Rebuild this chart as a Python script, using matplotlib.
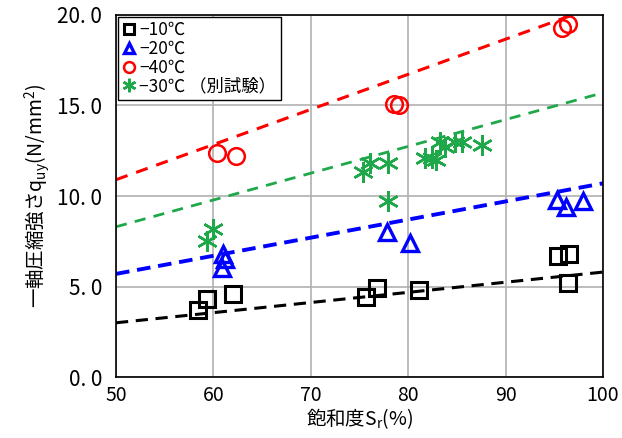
import matplotlib.pyplot as plt
from matplotlib.ticker import FuncFormatter

plt.rcParams['font.family'] = ['Noto Sans CJK JP', 'DejaVu Sans']

# -10°C
sr_10 = [58.4, 59.3, 62.0, 75.7, 76.8, 81.1, 95.4, 96.5, 96.4]
q_10 = [3.7, 4.3, 4.6, 4.4, 4.9, 4.8, 6.7, 6.8, 5.2]
# -20°C
sr_20 = [61.0, 61.2, 60.9, 77.8, 80.2, 95.3, 96.2, 97.9]
q_20 = [6.8, 6.5, 6.0, 8.0, 7.4, 9.8, 9.4, 9.7]
# -40°C
sr_40 = [60.4, 62.3, 78.5, 79.1, 95.8, 96.4]
q_40 = [12.4, 12.2, 15.1, 15.0, 19.3, 19.5]
# -30°C (separate test)
sr_30 = [59.3, 60.0, 75.4, 76.1, 77.9, 77.9, 81.7, 82.4, 82.9, 83.3, 83.8, 84.8, 85.5, 87.6]
q_30 = [7.5, 8.2, 11.3, 11.8, 11.8, 9.7, 12.1, 12.1, 12.0, 13.0, 12.7, 13.0, 13.0, 12.8]

# trend lines (value at Sr=50 and Sr=100)
trend_x = [50, 100]
trend_10 = [3.0, 5.8]
trend_20 = [5.7, 10.7]
trend_40 = [10.9, 20.6]
trend_30 = [8.3, 15.7]

fig = plt.figure(figsize=(6.22, 4.38), dpi=100)
ax = fig.add_axes([0.1865, 0.139, 0.783, 0.827])

ax.plot(trend_x, trend_10, '--', color='black', lw=2.2, dashes=(4, 2.5))
ax.plot(trend_x, trend_20, '--', color='#0000ff', lw=2.8, dashes=(3.5, 2))
ax.plot(trend_x, trend_40, '--', color='#ff0000', lw=2.2, dashes=(4, 3))
ax.plot(trend_x, trend_30, '--', color='#1fa84a', lw=2.0, dashes=(4, 3))

ax.plot(sr_10, q_10, 's', mfc='none', mec='black', ms=12, mew=2.2, label='−10℃')
ax.plot(sr_20, q_20, '^', mfc='none', mec='#0000ff', ms=12, mew=2.4, label='−20℃')
ax.plot(sr_40, q_40, 'o', mfc='none', mec='#ff0000', ms=12, mew=1.8, label='−40℃')
ax.plot(sr_30, q_30, marker=(6, 2, 0), ls='none', color='#1fa84a', ms=15, mew=1.8,
        label='−30℃ （別試験）')

ax.set_xlim(50, 100)
ax.set_ylim(0, 20)
ax.set_xticks([50, 60, 70, 80, 90, 100])
ax.set_yticks([0, 5, 10, 15, 20])
ax.yaxis.set_major_formatter(FuncFormatter(lambda v, p: ('%.1f' % v).replace('.', '. ')))
ax.tick_params(axis='y', length=0, labelsize=15, pad=10)
ax.tick_params(axis='x', length=0, labelsize=14, pad=6)
ax.grid(True, color='#b0b0b0', lw=1.2)
ax.set_axisbelow(True)
for s in ax.spines.values():
    s.set_color('black')
    s.set_linewidth(1.2)

ax.set_xlabel('飽和度S$_\\mathregular{r}$(%)', fontsize=14, labelpad=0)
ax.set_ylabel('一軸圧縮強さq$_\\mathregular{uy}$(N/mm$^\\mathregular{2}$)', fontsize=14, labelpad=4)

leg = ax.legend(loc='upper left', fontsize=12.5, markerscale=0.65, handlelength=0.8,
                handletextpad=0.2, labelspacing=0.05, borderpad=0.25,
                fancybox=False, framealpha=1, borderaxespad=0.1)
leg.get_frame().set_edgecolor('black')
leg.get_frame().set_linewidth(1.0)

fig.savefig('out.png')
